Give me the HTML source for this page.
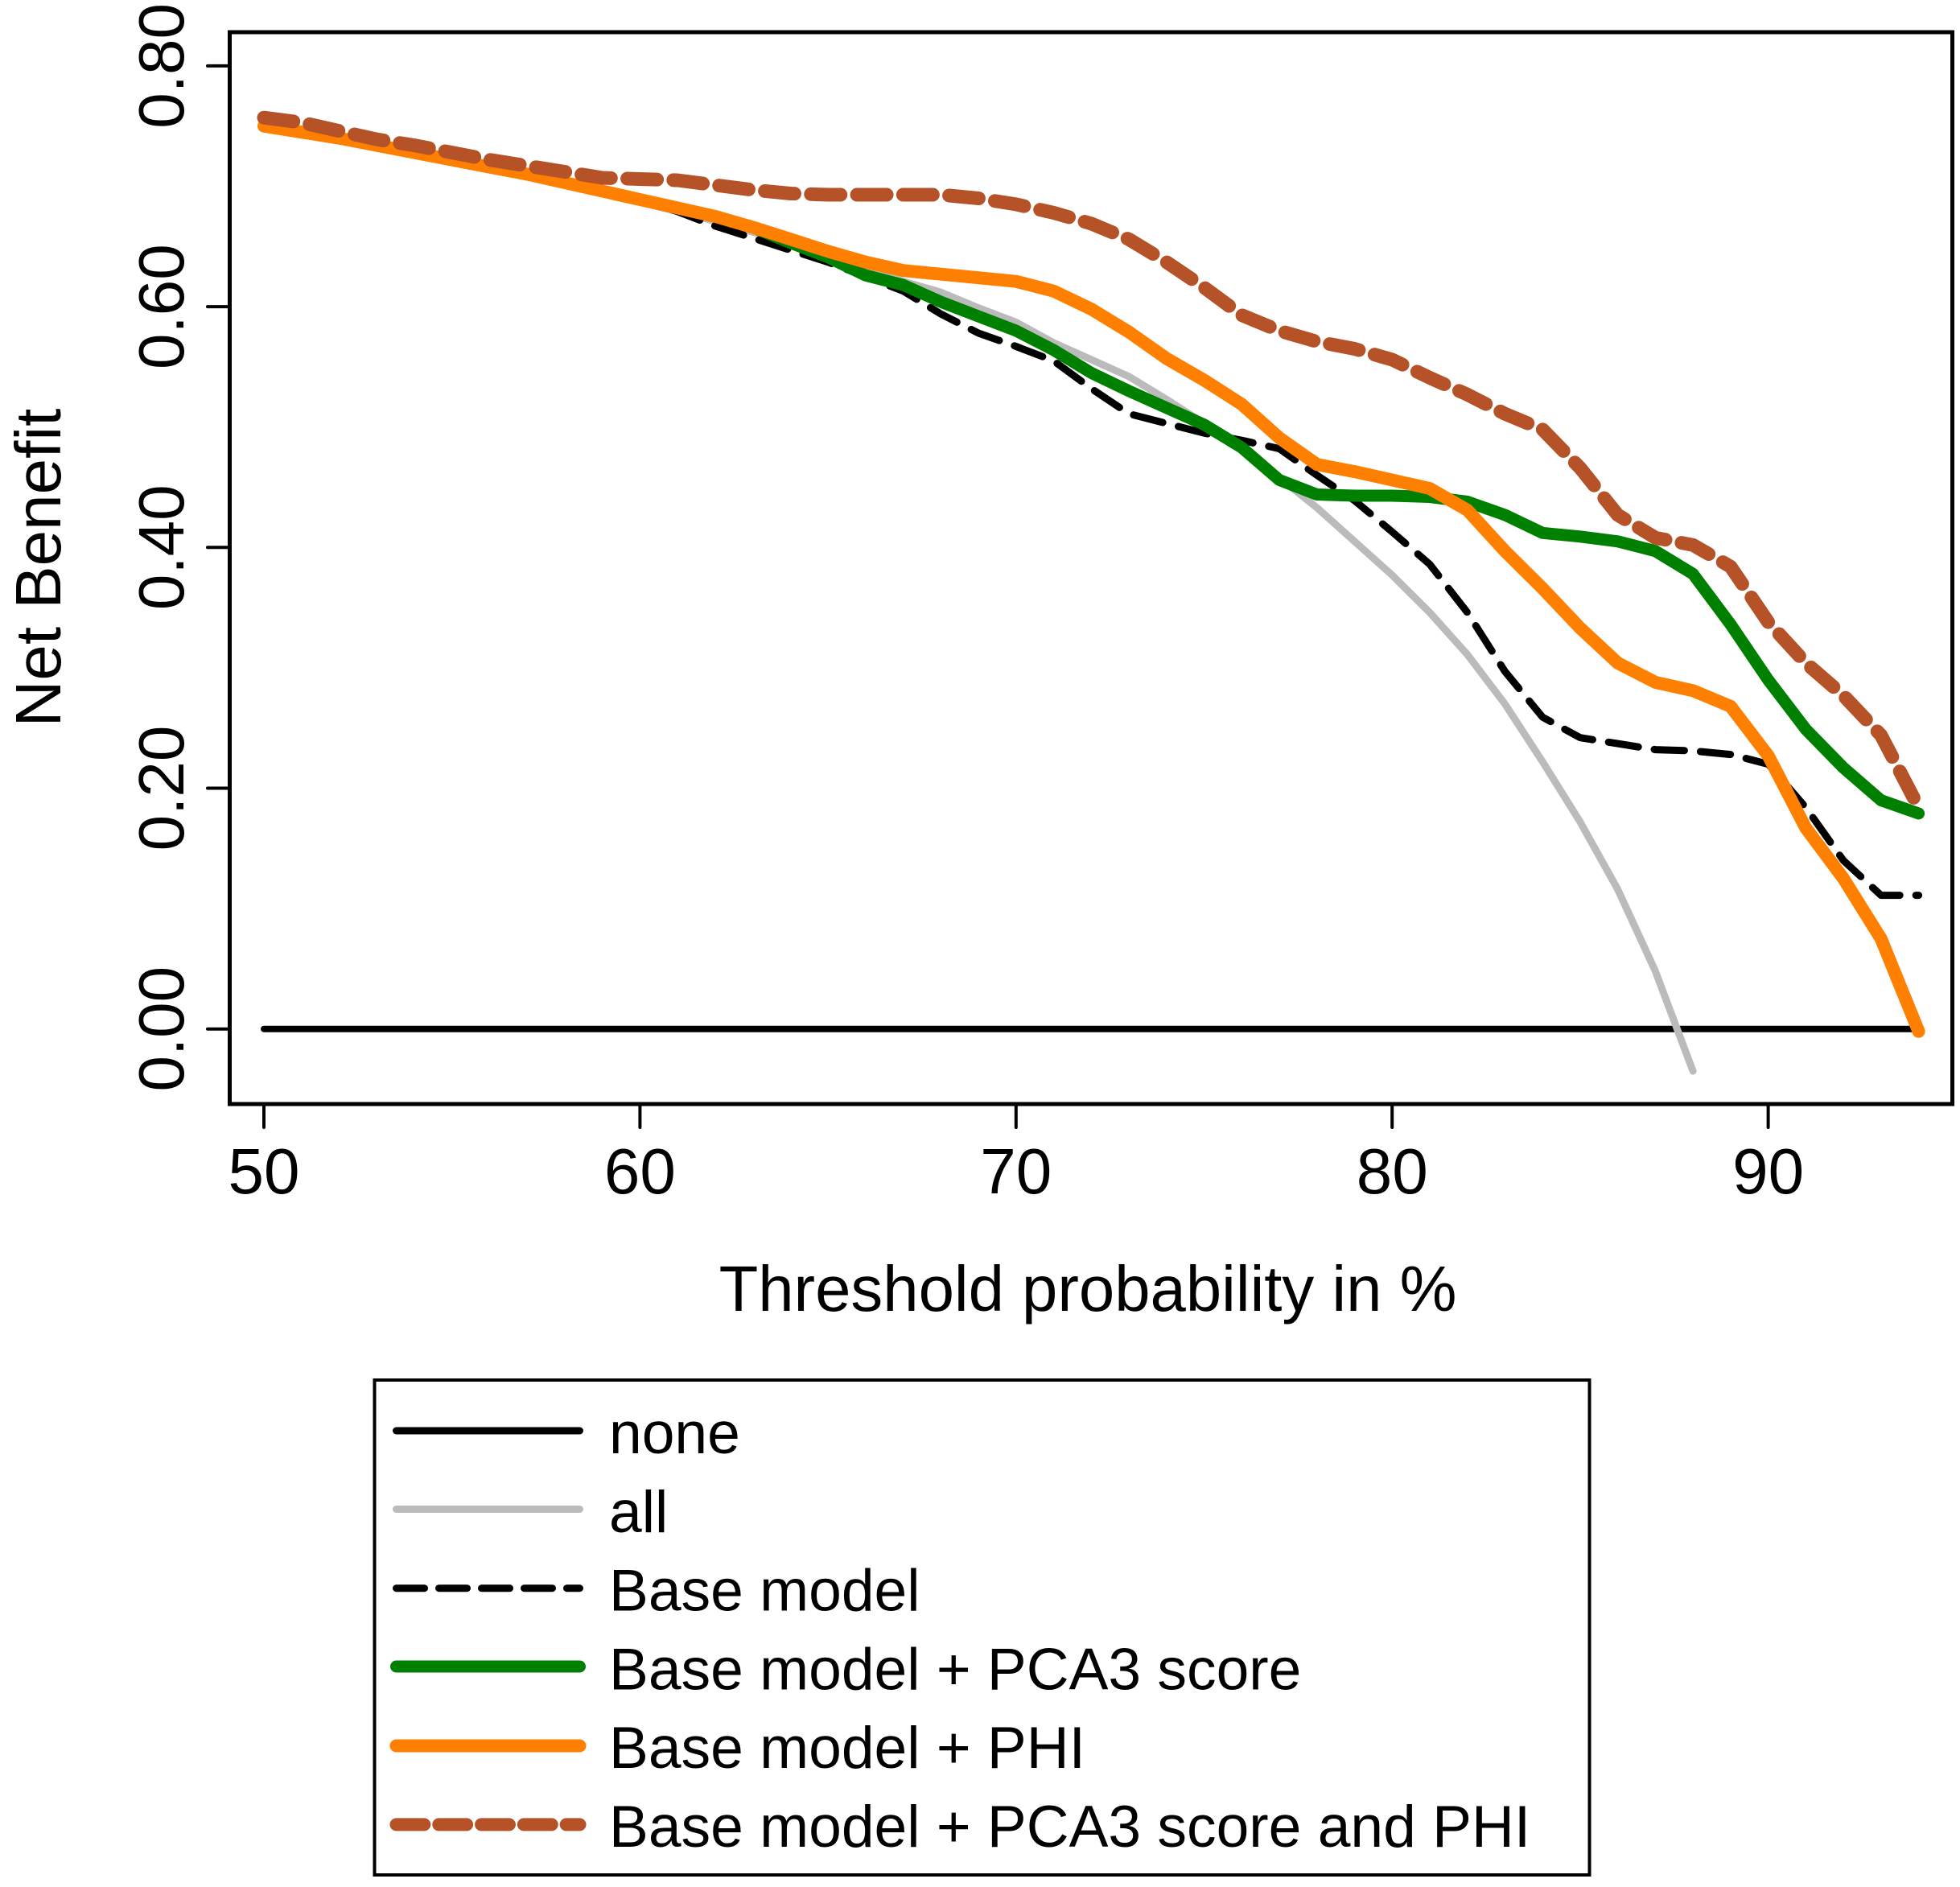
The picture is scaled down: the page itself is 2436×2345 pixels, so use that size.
<!DOCTYPE html>
<html lang="en">
<head>
<meta charset="utf-8">
<title>Net Benefit decision curve</title>
<style>
html,body{margin:0;padding:0;background:#fff;}
svg{display:block;}
text{font-family:"Liberation Sans",sans-serif;fill:#000;}
</style>
</head>
<body>
<svg id="chart" xmlns="http://www.w3.org/2000/svg" width="2436" height="2345" viewBox="0 0 2436 2345">
  <rect x="0" y="0" width="2436" height="2345" fill="#fff"/>
  <g id="series-layer"></g>
  <rect x="285.5" y="40" width="2141" height="1332" fill="none" stroke="#000" stroke-width="5"/>
  <g id="axis-layer"></g>
  <text x="1352" y="1629" font-size="79.7" text-anchor="middle">Threshold probability in %</text>
  <text transform="translate(75,705.5) rotate(-90)" font-size="80" text-anchor="middle">Net Benefit</text>

  <g>
    <rect x="465.5" y="1715" width="1510" height="615" fill="#fff" stroke="#000" stroke-width="4"/>
    <g>
      <line x1="492.5" y1="1778" x2="720.5" y2="1778" stroke="#000" stroke-width="9" stroke-linecap="round"/>
      <text x="757" y="1806" font-size="73.2">none</text>
    </g>
    <g>
      <line x1="492.5" y1="1875.5" x2="720.5" y2="1875.5" stroke="#BBBBBB" stroke-width="9" stroke-linecap="round"/>
      <text x="757" y="1904" font-size="73.2">all</text>
    </g>
    <g>
      <line x1="492.5" y1="1973.7" x2="720.5" y2="1973.7" stroke="#000" stroke-width="9" stroke-linecap="round" stroke-dasharray="35 18"/>
      <text x="757" y="2001.6" font-size="73.2">Base model</text>
    </g>
    <g>
      <line x1="492.5" y1="2071" x2="720.5" y2="2071" stroke="#008000" stroke-width="15" stroke-linecap="round"/>
      <text x="757" y="2099.4" font-size="73.2">Base model + PCA3 score</text>
    </g>
    <g>
      <line x1="492.5" y1="2169.5" x2="720.5" y2="2169.5" stroke="#FF8000" stroke-width="16" stroke-linecap="round"/>
      <text x="757" y="2197.2" font-size="73.2">Base model + PHI</text>
    </g>
    <g>
      <line x1="492.5" y1="2267.4" x2="720.5" y2="2267.4" stroke="#B55227" stroke-width="16" stroke-linecap="round" stroke-dasharray="34.8 18"/>
      <text x="757" y="2295" font-size="73.2">Base model + PCA3 score and PHI</text>
    </g>
  </g>
</svg>
<script>
const thresholds = [50,51,52,53,54,55,56,57,58,59,60,61,62,63,64,65,66,67,68,69,70,71,72,73,74,75,76,77,78,79,80,81,82,83,84,85,86,87,88,89,90,91,92,93,94];
const noneValues = [0,0,0,0,0,0,0,0,0,0,0,0,0,0,0,0,0,0,0,0,0,0,0,0,0,0,0,0,0,0,0,0,0,0,0,0,0,0,0,0,0,0,0,0,0];
const allValues = [.750,.745,.740,.734,.728,.722,.716,.709,.702,.695,.687,.679,.671,.662,.653,.643,.632,.621,.612,.599,.587,.570,.556,.542,.523,.503,.482,.458,.433,.405,.377,.346,.311,.270,.222,.172,.116,.048,-.035];
const baseValues = [.750,.745,.740,.734,.728,.722,.716,.710,.703,.696,.689,.679,.667,.657,.647,.637,.625,.613,.594,.578,.567,.555,.532,.511,.503,.495,.489,.482,.460,.439,.413,.386,.346,.297,.259,.242,.237,.232,.231,.228,.220,.184,.140,.111,.111];
const pca3Values = [.750,.745,.740,.734,.728,.722,.716,.710,.703,.696,.689,.682,.675,.666,.653,.641,.626,.618,.604,.592,.580,.564,.545,.530,.516,.502,.483,.456,.444,.443,.443,.442,.438,.427,.412,.409,.405,.397,.378,.336,.290,.249,.217,.190,.179];
const phiValues = [.750,.745,.740,.734,.728,.722,.716,.710,.703,.696,.689,.682,.675,.666,.656,.646,.637,.630,.627,.624,.621,.613,.598,.579,.557,.539,.519,.491,.469,.463,.456,.449,.431,.397,.366,.333,.304,.288,.281,.268,.227,.167,.125,.075,-.002];
const pca3PhiValues = [.757,.753,.746,.739,.734,.728,.722,.717,.712,.707,.706,.705,.701,.697,.694,.693,.693,.693,.693,.690,.685,.678,.669,.656,.637,.616,.593,.580,.571,.565,.556,.541,.527,.511,.498,.466,.427,.408,.402,.384,.338,.304,.277,.244,.184];
const xTickValues = [50,60,70,80,90];
const xTickLabels = ["50","60","70","80","90"];
const yTickValues = [0,.2,.4,.6,.8];
const yTickLabels = ["0.00","0.20","0.40","0.60","0.80"];

const NS = "http://www.w3.org/2000/svg";
function xScale(t){ return 328 + (t - 50) * 46.74; }
function yScale(v){ return 1278.7 - v * 1496; }

const seriesLayer = document.getElementById("series-layer");
const axisLayer = document.getElementById("axis-layer");

function drawSeries(values, name, color, width, dash){
  const p = document.createElementNS(NS, "path");
  let d = "";
  values.forEach(function(v, i){
    d += (i ? "L" : "M") + xScale(thresholds[i]).toFixed(1) + " " + yScale(v).toFixed(1);
  });
  p.setAttribute("d", d);
  p.setAttribute("fill", "none");
  p.setAttribute("stroke", color);
  p.setAttribute("stroke-width", width);
  p.setAttribute("stroke-linecap", "round");
  p.setAttribute("stroke-linejoin", "round");
  if (dash) p.setAttribute("stroke-dasharray", dash);
  
  
  seriesLayer.appendChild(p);
}

drawSeries(noneValues, "series-none", "#000", 8, null);
drawSeries(allValues, "series-all", "#BBBBBB", 9, null);
drawSeries(baseValues, "series-base-model", "#000", 9, "37.5 20");
drawSeries(pca3Values, "series-pca3", "#008000", 15, null);
drawSeries(phiValues, "series-phi", "#FF8000", 16, null);
drawSeries(pca3PhiValues, "series-pca3-phi", "#B55227", 17, "37 20.3");

xTickValues.forEach(function(t, i){
  const x = xScale(t);
  const tick = document.createElementNS(NS, "line");
  tick.setAttribute("x1", x);
  tick.setAttribute("x2", x);
  tick.setAttribute("y1", 1372);
  tick.setAttribute("y2", 1401);
  tick.setAttribute("stroke", "#000");
  tick.setAttribute("stroke-width", 4);
  tick.setAttribute("stroke-linecap", "round");
  
  
  axisLayer.appendChild(tick);
  const label = document.createElementNS(NS, "text");
  label.setAttribute("x", x);
  label.setAttribute("y", 1483);
  label.setAttribute("font-size", 80);
  label.setAttribute("text-anchor", "middle");
  label.textContent = xTickLabels[i];
  
  
  axisLayer.appendChild(label);
});

yTickValues.forEach(function(v, i){
  const y = yScale(v);
  const tick = document.createElementNS(NS, "line");
  tick.setAttribute("x1", 258);
  tick.setAttribute("x2", 285.5);
  tick.setAttribute("y1", y);
  tick.setAttribute("y2", y);
  tick.setAttribute("stroke", "#000");
  tick.setAttribute("stroke-width", 4);
  tick.setAttribute("stroke-linecap", "round");
  
  
  axisLayer.appendChild(tick);
  const label = document.createElementNS(NS, "text");
  label.setAttribute("transform", "translate(228," + y + ") rotate(-90)");
  label.setAttribute("font-size", 80);
  label.setAttribute("text-anchor", "middle");
  label.textContent = yTickLabels[i];
  
  
  axisLayer.appendChild(label);
});
</script>
</body>
</html>
